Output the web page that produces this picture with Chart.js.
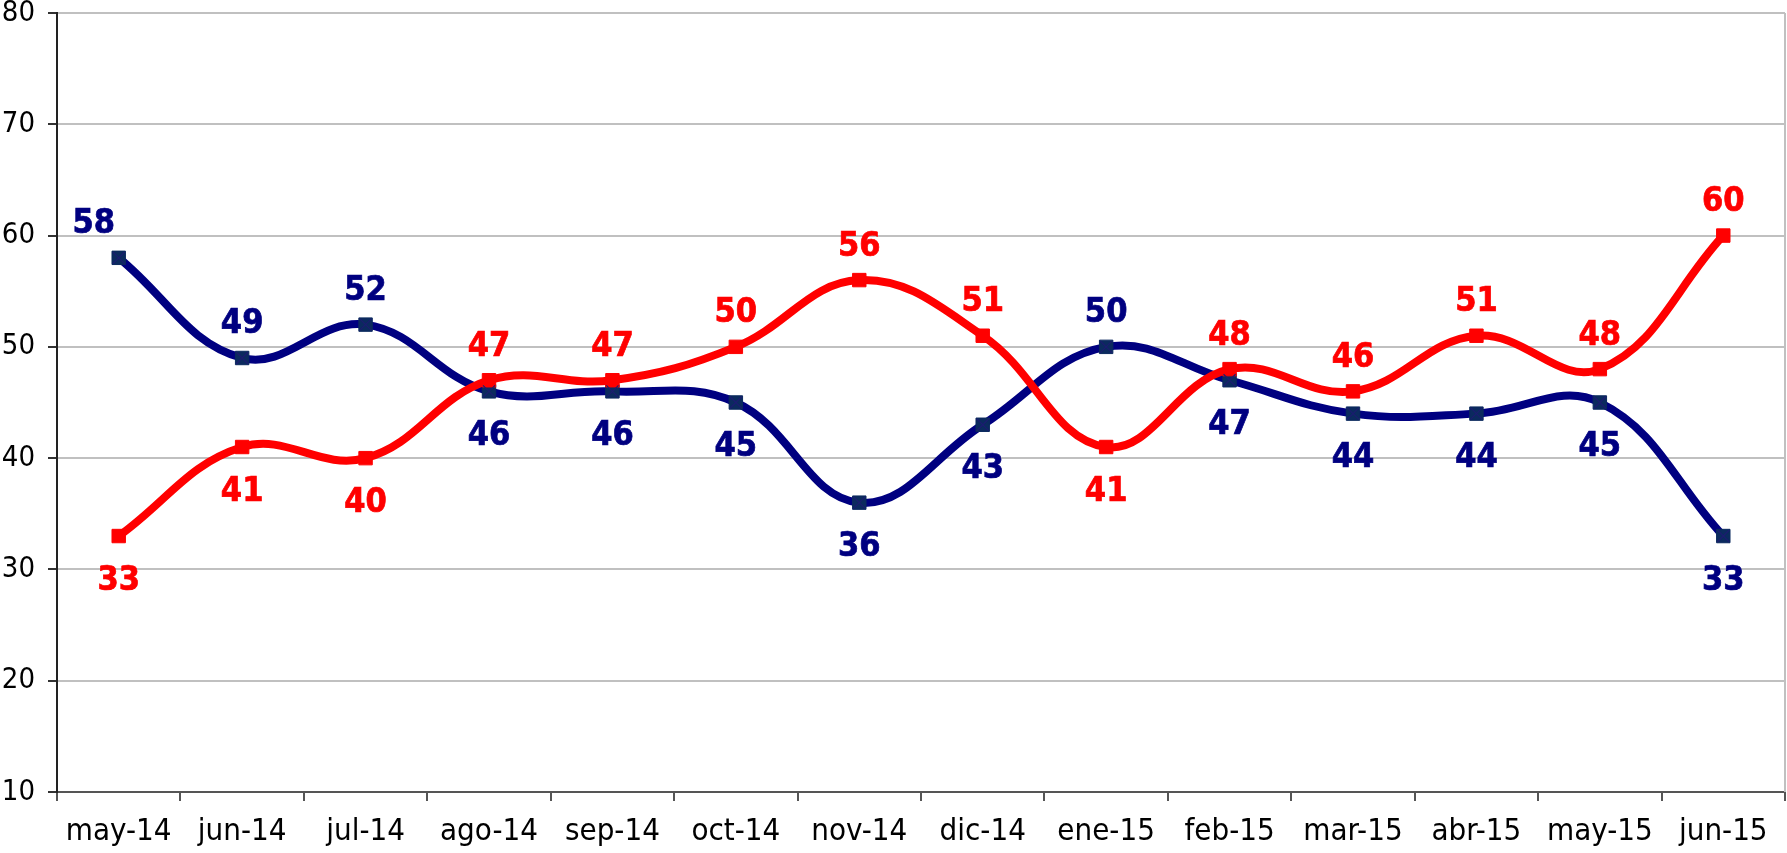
<!DOCTYPE html>
<html lang="es">
<head>
<meta charset="UTF-8">
<title>Serie mensual</title>
<script src="https://cdn.jsdelivr.net/npm/chart.js"></script>
<style>
    html, body { margin: 0; padding: 0; background: #fff; }
    #chart { display: block; }
</style>
</head>
<body>
<canvas id="chart" width="1787" height="853"></canvas>
<script>
// datos
const meses = ['may-14', 'jun-14', 'jul-14', 'ago-14', 'sep-14', 'oct-14', 'nov-14',
               'dic-14', 'ene-15', 'feb-15', 'mar-15', 'abr-15', 'may-15', 'jun-15'];
const serieAzul = [58, 49, 52, 46, 46, 45, 36, 43, 50, 47, 44, 44, 45, 33];
const serieRoja = [33, 41, 40, 47, 47, 50, 56, 51, 41, 48, 46, 51, 48, 60];
const ticksY = [10, 20, 30, 40, 50, 60, 70, 80];

// donde va cada etiqueta: 'a' arriba, 'b' abajo
const etiqAzul = ['a','a','a','b','b','b','b','b','a','b','b','b','b','b'];
const etiqRoja = ['b','b','b','a','a','a','a','a','b','a','a','a','a','a'];

const AZUL = '#000080';
const ROJO = '#ff0000';
const FUENTE = '"DejaVu Sans Condensed", "DejaVu Sans", sans-serif';

// etiquetas de valor, marcas en X y borde derecho
const etiquetasPlugin = {
    id: 'etiquetas',
    afterDatasetsDraw(chart) {
        const ctx = chart.ctx;
        const area = chart.chartArea;
        ctx.save();
        ctx.strokeStyle = '#c0c0c0';
        ctx.lineWidth = 2;
        ctx.beginPath();
        ctx.moveTo(area.right, area.top);
        ctx.lineTo(area.right, area.bottom);
        ctx.stroke();

        chart.data.datasets.forEach((ds, i) => {
            const meta = chart.getDatasetMeta(i);
            meta.data.forEach((pt, j) => {
                if (ds.cruz) {
                    ctx.strokeStyle = '#1c1c70';
                    ctx.lineWidth = 1.2;
                    ctx.beginPath();
                    ctx.moveTo(pt.x - 6, pt.y - 6);
                    ctx.lineTo(pt.x + 6, pt.y + 6);
                    ctx.moveTo(pt.x + 6, pt.y - 6);
                    ctx.lineTo(pt.x - 6, pt.y + 6);
                    ctx.stroke();
                }
                const pos = ds.posiciones[j];
                let dx = (ds.desplaza && ds.desplaza[j]) || 0;
                ctx.font = 'bold 34px ' + FUENTE;
                ctx.fillStyle = ds.borderColor;
                ctx.strokeStyle = ds.borderColor;
                ctx.lineWidth = 0.7;
                ctx.textAlign = 'center';
                ctx.textBaseline = 'alphabetic';
                const y = pos === 'a' ? pt.y - 24.5 : pt.y + 53.5;
                ctx.fillText(String(ds.data[j]), pt.x + dx, y);
                ctx.strokeText(String(ds.data[j]), pt.x + dx, y);
            });
        });
        ctx.restore();
    }
};

new Chart(document.getElementById('chart'), {
    type: 'line',
    data: {
        labels: meses,
        datasets: [
            {
                label: 'Rojo',
                data: serieRoja,
                borderColor: ROJO,
                backgroundColor: ROJO,
                borderWidth: 8,
                tension: 0.4,
                pointStyle: 'rect',
                pointRadius: 9.5,
                pointBackgroundColor: ROJO,
                pointBorderColor: ROJO,
                pointBorderWidth: 1,
                posiciones: etiqRoja
            },
            {
                label: 'Azul',
                data: serieAzul,
                borderColor: AZUL,
                backgroundColor: AZUL,
                borderWidth: 8,
                tension: 0.4,
                pointStyle: 'rect',
                pointRadius: 9.5,
                pointBackgroundColor: '#0b2a5e',
                pointBorderColor: '#0b2a5e',
                pointBorderWidth: 1,
                posiciones: etiqAzul,
                desplaza: { 0: -25 },
                cruz: true
            }
        ]
    },
    options: {
        responsive: false,
        animation: false,
        events: [],
        layout: {
            autoPadding: false,
            padding: { top: 13, right: 2, bottom: 0, left: 0 }
        },
        plugins: {
            legend: { display: false },
            tooltip: { enabled: false }
        },
        scales: {
            x: {
                offset: true,
                afterFit(scale) {
                    scale.height = 61;
                    scale.paddingLeft = 0;
                    scale.paddingRight = 0;
                },
                grid: {
                    offset: true,
                    drawOnChartArea: false,
                    tickLength: 9,
                    tickColor: '#555',
                    lineWidth: 2
                },
                border: { color: '#555', width: 2 },
                ticks: {
                    color: '#000',
                    padding: 12,
                    maxRotation: 0,
                    autoSkip: false,
                    font: { family: FUENTE, size: 31 }
                }
            },
            y: {
                min: 10,
                max: 80,
                afterFit(scale) {
                    scale.width = 57;
                    scale.paddingTop = 0;
                    scale.paddingBottom = 0;
                },
                afterBuildTicks(scale) {
                    scale.ticks = ticksY.map(v => ({ value: v }));
                },
                grid: {
                    color: '#c0c0c0',
                    lineWidth: 2,
                    tickLength: 9,
                    tickColor: '#333'
                },
                border: { color: '#222', width: 2 },
                ticks: {
                    color: '#000',
                    padding: 13,
                    font: { family: FUENTE, size: 29 }
                }
            }
        }
    },
    plugins: [etiquetasPlugin]
});
</script>
</body>
</html>
